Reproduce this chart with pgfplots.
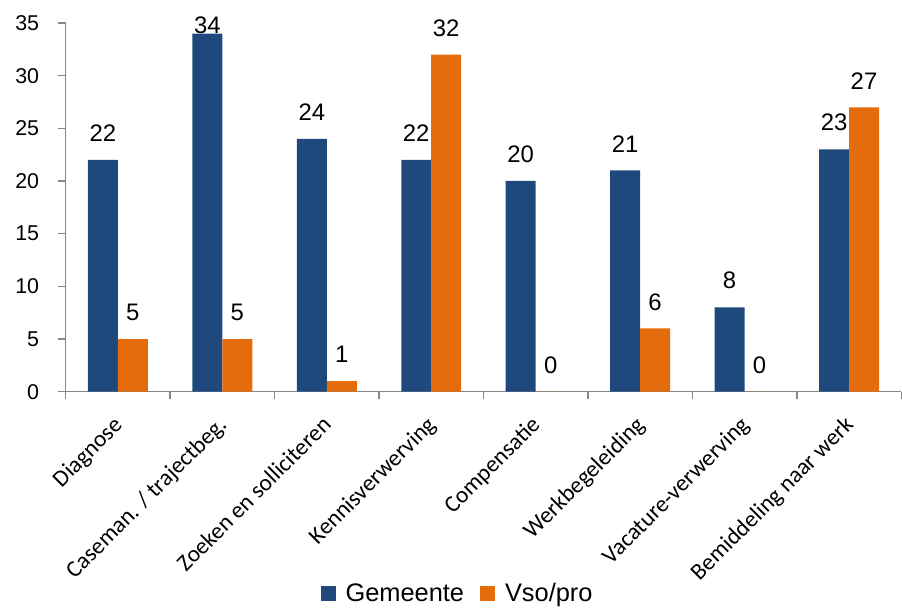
\documentclass[border=0pt]{standalone}
\usepackage{fontspec}
\setmainfont{Carlito}
\newfontfamily\arialf{Liberation Sans}
\usepackage{pgfplots}
\pgfplotsset{compat=1.18}
\definecolor{cblue}{HTML}{1F497D}
\definecolor{corange}{HTML}{E46C0A}
\definecolor{axgray}{HTML}{878787}
\begin{document}
\begin{tikzpicture}
\path (-65.7bp,-216bp) rectangle (836.3bp,392bp);
\begin{axis}[
  at={(0,0)}, anchor=south west,
  scale only axis, width=836.3bp, height=369bp,
  ymin=0, ymax=35, ytick={0,5,...,35},
  xmin=-0.5, xmax=7.5,
  xtick={0,...,7},
  xticklabels={Diagnose, Caseman. / trajectbeg., Zoeken en solliciteren, Kennisverwerving, Compensatie, Werkbegeleiding, Vacature-verwerving, Bemiddeling naar werk},
  minor xtick={-0.5,0.5,...,7.5},
  axis x line*=bottom, axis y line*=left,
  axis line style={axgray, line width=1.5bp},
  tick style={axgray, line width=1.5bp},
  major x tick style={draw=none},
  major tick length=8bp, minor tick length=7bp,
  tick align=outside,
  /pgf/number format/assume math mode=true,
  yticklabel style={font=\arialf\fontsize{21.5}{21.5}\selectfont, xshift=-15bp},
  xticklabel style={font=\fontsize{23.5}{23.5}\selectfont, xshift=5.7bp, yshift=-26.5bp, rotate=45, anchor=base east, inner sep=0pt},
  ybar=0pt, bar width=30bp,
  clip=false,
  nodes near coords,
  visualization depends on={y \as \rawy},
  every node near coord/.append style={font=\arialf\fontsize{24}{24}\selectfont, inner sep=0pt, anchor=south, black, yshift={ifthenelse(\rawy>33,0,18)*1bp}},
  legend style={at={(0.469,-0.547)}, anchor=center, draw=none, fill=none, legend columns=2, font=\arialf\fontsize{25.5}{25.5}\selectfont, /tikz/every odd column/.append style={column sep=8bp}, /tikz/every even column/.append style={column sep=14bp}},
  legend image code/.code={\fill[#1] (0bp,-7.5bp) rectangle (15bp,7.5bp);},
]
\addplot[fill=cblue, draw=none] coordinates {(0,22) (1,34) (2,24) (3,22) (4,20) (5,21) (6,8) (7,23)};
\addplot[fill=corange, draw=none] coordinates {(0,5) (1,5) (2,1) (3,32) (4,0) (5,6) (6,0) (7,27)};
\legend{Gemeente, Vso/pro}
\end{axis}
\end{tikzpicture}
\end{document}
